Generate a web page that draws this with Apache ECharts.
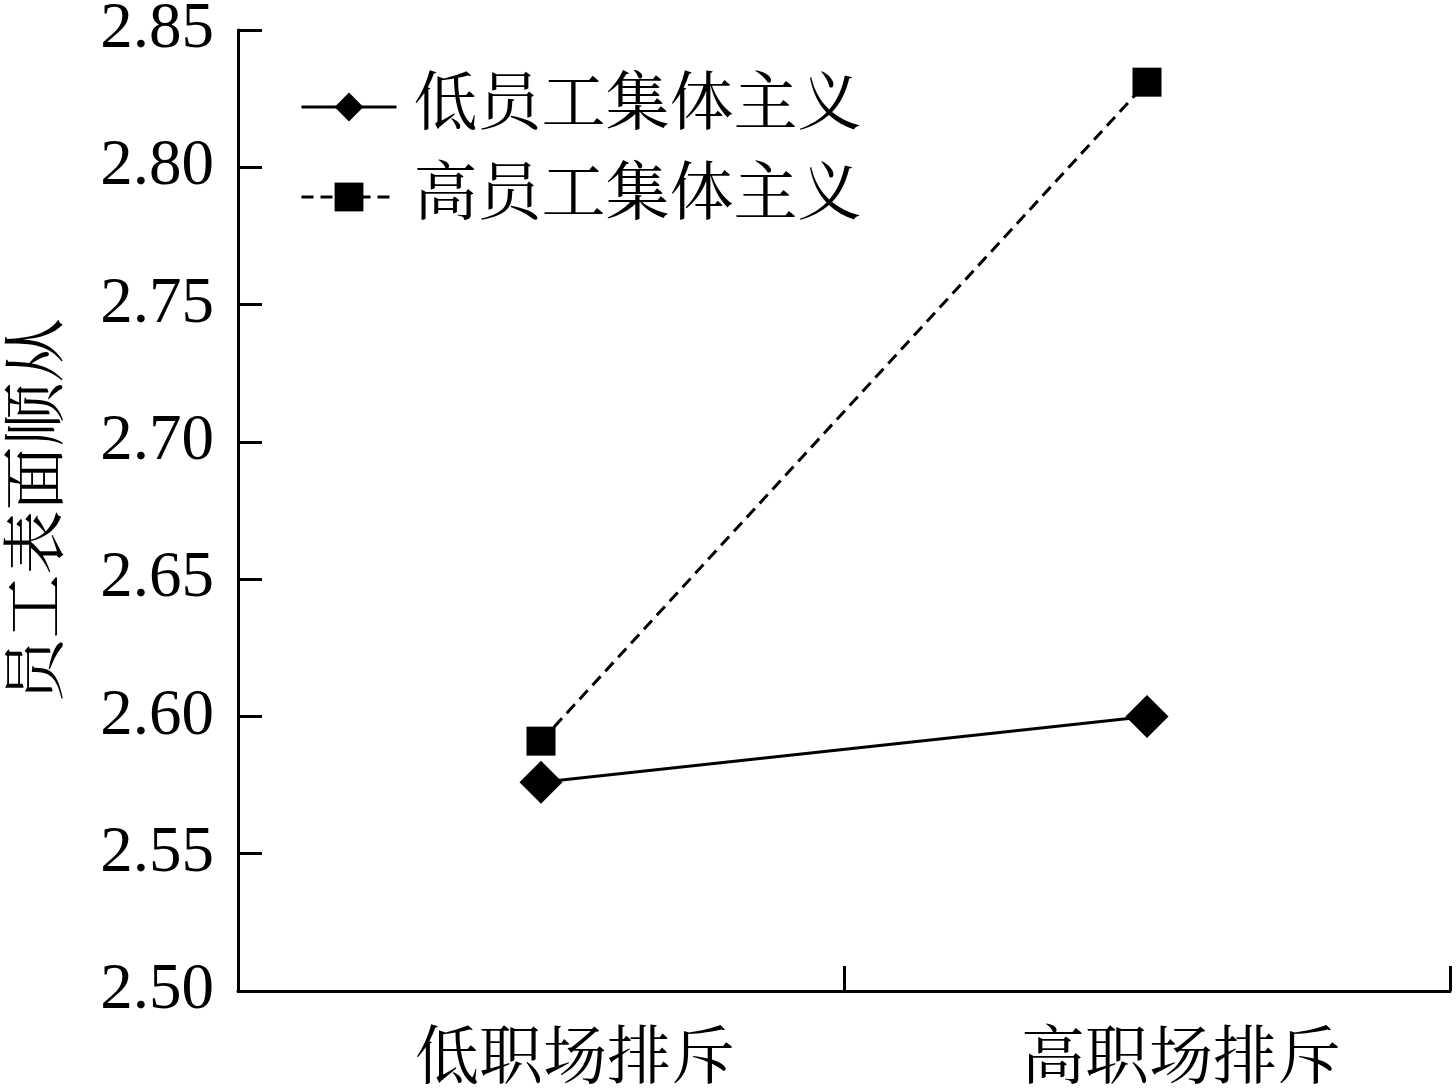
<!DOCTYPE html>
<html>
<head>
<meta charset="utf-8">
<script src="https://cdn.jsdelivr.net/npm/echarts@6/dist/echarts.min.js"></script>
<style>html,body{margin:0;padding:0;background:#fff}#c{width:1456px;height:1088px}</style>
</head>
<body>
<div id="c"></div>
<script>
const categories = ['低职场排斥', '高职场排斥'];
const seriesNames = ['低员工集体主义', '高员工集体主义'];
const lowCollectivism = [2.576, 2.600];
const highCollectivism = [2.591, 2.831];
const yMin = 2.50, yMax = 2.85, yStep = 0.05;
const yAxisName = '员工表面顺从';

const FONT = '"Liberation Serif", "Noto Serif CJK SC", "Noto Sans CJK SC", serif';
const chart = echarts.init(document.getElementById('c'));
chart.setOption({
  animation: false,
  backgroundColor: '#fff',
  grid: {left: 238, right: 6, top: 30, bottom: 97, containLabel: false, outerBoundsMode: 'none'},
  legend: {
    left: 295, top: 70, orient: 'vertical',
    itemWidth: 95, itemHeight: 36, itemGap: 26,
    lineStyle: {width: 3},
    textStyle: {fontFamily: FONT, fontSize: 64, color: '#000', padding: [0,0,0,12]},
    data: seriesNames
  },
  xAxis: {
    type: 'category', data: categories, boundaryGap: true,
    axisLine: {lineStyle: {color: '#000', width: 3}},
    axisTick: {show: true, inside: true, length: 25, lineStyle: {color: '#000', width: 3}},
    axisLabel: {fontFamily: FONT, fontSize: 64, color: '#000', margin: 38, padding: [0, 0, 0, 68]}
  },
  yAxis: {
    type: 'value', min: yMin, max: yMax, interval: yStep,
    name: yAxisName, nameLocation: 'middle', nameRotate: 90, nameGap: 166,
    nameTextStyle: {fontFamily: FONT, fontSize: 64, color: '#000'},
    splitLine: {show: false},
    axisLine: {show: true, lineStyle: {color: '#000', width: 3}},
    axisTick: {show: true, inside: true, length: 24, lineStyle: {color: '#000', width: 3}},
    axisLabel: {fontFamily: FONT, fontSize: 65, color: '#000', margin: 24,
      formatter: v => v.toFixed(2)}
  },
  series: [
    {
      name: seriesNames[0], type: 'line', data: lowCollectivism,
      symbol: 'diamond', symbolSize: [43, 43],
      lineStyle: {color: '#000', width: 3, type: 'solid'},
      itemStyle: {color: '#000'}
    },
    {
      name: seriesNames[1], type: 'line', data: highCollectivism,
      symbol: 'rect', symbolSize: [29, 29],
      lineStyle: {color: '#000', width: 3, type: [12, 7]},
      itemStyle: {color: '#000'}
    }
  ]
});
</script>
</body>
</html>
